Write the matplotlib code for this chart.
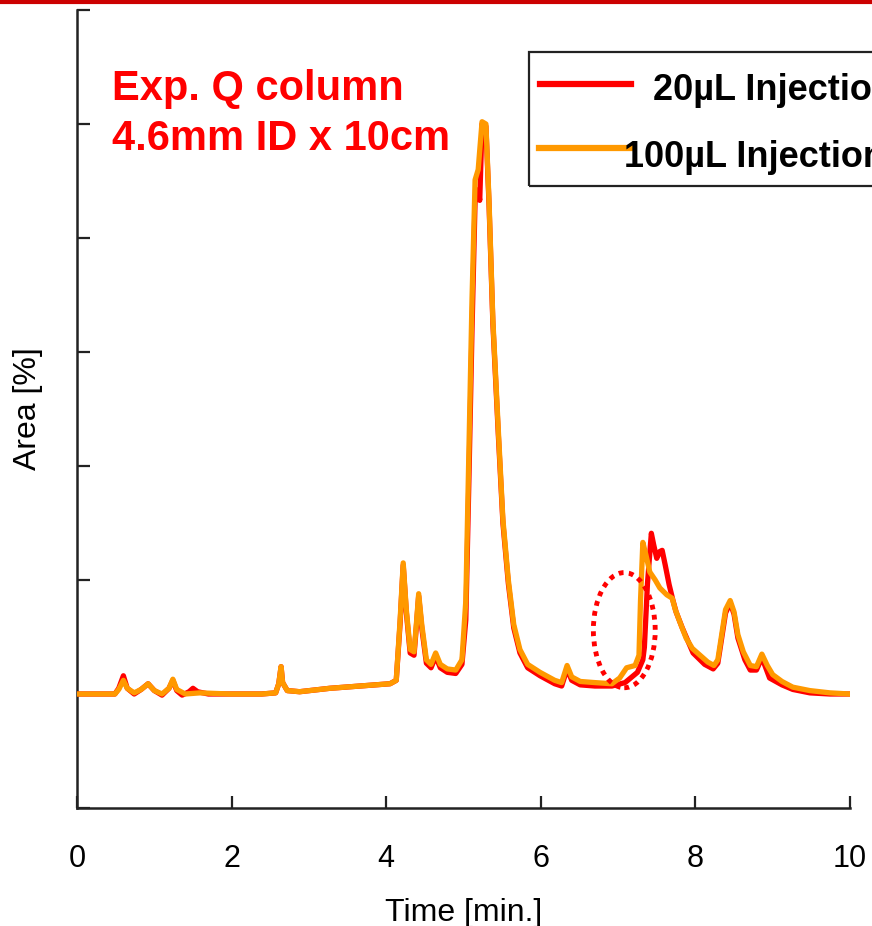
import matplotlib
matplotlib.use("Agg")
import matplotlib.pyplot as plt
from matplotlib.lines import Line2D
from matplotlib.patches import Ellipse, Rectangle

plt.rcParams['font.family'] = ['Liberation Sans', 'DejaVu Sans']

# chromatogram traces (time in min, signal in tick units above baseline)
t_100 = [0.00, 0.49, 0.54, 0.60, 0.65, 0.74, 0.83, 0.92, 1.00, 1.10, 1.19, 1.24, 1.29, 1.40,
         1.59, 1.98, 2.39, 2.57, 2.61, 2.64, 2.66, 2.72, 2.88, 3.27, 3.66, 4.05, 4.13, 4.18,
         4.22, 4.26, 4.31, 4.36, 4.39, 4.42, 4.46, 4.52, 4.58, 4.64, 4.70, 4.79, 4.90, 4.98,
         5.03, 5.07, 5.11, 5.15, 5.19, 5.21, 5.24, 5.29, 5.33, 5.38, 5.45, 5.51, 5.58, 5.65,
         5.73, 5.83, 5.99, 6.18, 6.27, 6.34, 6.40, 6.51, 6.70, 6.92, 7.02, 7.11, 7.22, 7.27,
         7.29, 7.32, 7.36, 7.41, 7.48, 7.54, 7.63, 7.70, 7.74, 7.80, 7.88, 7.96, 8.06, 8.16,
         8.24, 8.29, 8.34, 8.39, 8.45, 8.50, 8.55, 8.62, 8.71, 8.79, 8.86, 8.93, 9.00, 9.12,
         9.26, 9.48, 9.74, 10.0]
v_100 = [0.00, 0.00, 0.04, 0.12, 0.05, 0.01, 0.04, 0.09, 0.03, 0.00, 0.05, 0.13, 0.04, 0.00,
         0.01, 0.00, 0.00, 0.01, 0.09, 0.24, 0.10, 0.03, 0.02, 0.05, 0.07, 0.09, 0.12, 0.65,
         1.15, 0.74, 0.39, 0.37, 0.61, 0.88, 0.61, 0.30, 0.26, 0.36, 0.26, 0.22, 0.21, 0.30,
         0.82, 2.14, 3.46, 4.51, 4.60, 4.77, 5.02, 5.00, 4.33, 3.28, 2.32, 1.53, 1.00, 0.61,
         0.39, 0.26, 0.19, 0.12, 0.10, 0.25, 0.15, 0.11, 0.10, 0.09, 0.14, 0.23, 0.25, 0.34,
         0.82, 1.33, 1.22, 1.07, 1.00, 0.93, 0.87, 0.84, 0.74, 0.63, 0.49, 0.40, 0.34, 0.28,
         0.25, 0.30, 0.52, 0.74, 0.82, 0.72, 0.52, 0.37, 0.25, 0.24, 0.35, 0.25, 0.17, 0.11,
         0.06, 0.03, 0.01, 0.00]

t_20 = [0.00, 0.49, 0.54, 0.60, 0.65, 0.74, 0.83, 0.92, 1.00, 1.10, 1.19, 1.24, 1.29, 1.36,
        1.45, 1.50, 1.56, 1.70, 1.98, 2.39, 2.57, 2.61, 2.64, 2.66, 2.72, 2.88, 3.27, 3.66,
        4.05, 4.13, 4.18, 4.22, 4.26, 4.31, 4.36, 4.39, 4.42, 4.46, 4.52, 4.58, 4.64, 4.70,
        4.79, 4.90, 4.98, 5.03, 5.07, 5.11, 5.15, 5.19, 5.21, 5.24, 5.29, 5.33, 5.38, 5.45,
        5.51, 5.58, 5.65, 5.73, 5.83, 5.99, 6.18, 6.27, 6.34, 6.40, 6.51, 6.70, 6.92, 7.09,
        7.25, 7.32, 7.34, 7.38, 7.43, 7.46, 7.50, 7.54, 7.57, 7.61, 7.66, 7.71, 7.75, 7.83,
        7.97, 8.12, 8.23, 8.29, 8.34, 8.39, 8.45, 8.50, 8.55, 8.64, 8.71, 8.79, 8.86, 8.96,
        9.12, 9.26, 9.48, 9.74, 10.0]
v_20 = [0.00, 0.00, 0.05, 0.16, 0.05, 0.00, 0.04, 0.09, 0.03, -0.01, 0.05, 0.12, 0.03, -0.01,
        0.02, 0.05, 0.02, 0.00, 0.00, 0.00, 0.01, 0.09, 0.24, 0.10, 0.03, 0.02, 0.05, 0.07,
        0.09, 0.12, 0.62, 1.13, 0.72, 0.36, 0.34, 0.59, 0.86, 0.58, 0.27, 0.23, 0.33, 0.23,
        0.19, 0.18, 0.26, 0.65, 1.88, 3.19, 4.33, 4.42, 4.33, 5.00, 4.98, 4.30, 3.25, 2.28,
        1.50, 0.97, 0.58, 0.36, 0.23, 0.16, 0.09, 0.07, 0.22, 0.12, 0.08, 0.07, 0.07, 0.10,
        0.19, 0.30, 0.41, 0.97, 1.41, 1.31, 1.19, 1.25, 1.26, 1.13, 0.96, 0.82, 0.72, 0.58,
        0.36, 0.26, 0.22, 0.27, 0.49, 0.71, 0.80, 0.70, 0.49, 0.30, 0.21, 0.21, 0.32, 0.14,
        0.08, 0.04, 0.01, 0.00, 0.00]

x_ticks = [0, 2, 4, 6, 8, 10]
y_ticks = [-1, 0, 1, 2, 3, 4, 5, 6]

RED = '#ff0000'
ORANGE = '#ff9900'

fig = plt.figure(figsize=(8.72, 9.26), dpi=100)
ax = fig.add_axes([77 / 872, 1 - 808 / 926, (850 - 77) / 872, (808 - 10) / 926])

ax.plot(t_20, v_20, color=RED, lw=3.8, solid_joinstyle='round',
        solid_capstyle='round', zorder=3)
ax.plot(t_100, v_100, color=ORANGE, lw=3.8, solid_joinstyle='round',
        solid_capstyle='round', zorder=4)

# dotted ring around the early shoulder
ax.add_patch(Ellipse((7.08, 0.56), 0.80, 1.01, fill=False, edgecolor=RED,
                     lw=3.5, linestyle=(0, (1, 1.1)), zorder=5))

ax.set_xlim(0, 10)
ax.set_ylim(-1, 6)
ax.set_xticks(x_ticks)
ax.set_yticks(y_ticks)
ax.set_yticklabels([])
ax.tick_params(direction='in', length=9, width=1.6, color='#222222',
               labelsize=22, pad=26)
ax.spines['top'].set_visible(False)
ax.spines['right'].set_visible(False)
for s in ('left', 'bottom'):
    ax.spines[s].set_linewidth(1.8)
    ax.spines[s].set_color('#222222')

ax.set_xlabel('Time [min.]', fontsize=23, labelpad=17)
ax.set_ylabel('Area [%]', fontsize=23, va='center')
ax.yaxis.set_label_coords(-0.064, 0.5)

# column description
fig.text(112 / 872, 1 - 100 / 926, 'Exp. Q column', color=RED, fontsize=30,
         fontweight='bold', va='baseline')
fig.text(112 / 872, 1 - 150 / 926, '4.6mm ID x 10cm', color=RED, fontsize=30,
         fontweight='bold', va='baseline')

# legend box running off the right edge
fig.add_artist(Rectangle((529 / 872, 1 - 186 / 926), 0.5, 134 / 926, fill=False,
                         edgecolor='#222222', lw=1.6, transform=fig.transFigure))
fig.add_artist(Line2D([540 / 872, 631 / 872], [1 - 84 / 926] * 2, color=RED, lw=4.5,
                      transform=fig.transFigure))
fig.add_artist(Line2D([539 / 872, 630 / 872], [1 - 148 / 926] * 2, color=ORANGE, lw=4.5,
                      transform=fig.transFigure))
fig.text(653 / 872, 1 - 100 / 926, '20µL Injection', fontsize=26, fontweight='bold',
         va='baseline')
fig.text(624 / 872, 1 - 167 / 926, '100µL Injection', fontsize=26, fontweight='bold',
         va='baseline')

# red rule along the top edge
fig.add_artist(Line2D([0, 1], [0.998, 0.998], color='#cc0000', lw=3,
                      transform=fig.transFigure))

fig.savefig('out.png', dpi=100)
